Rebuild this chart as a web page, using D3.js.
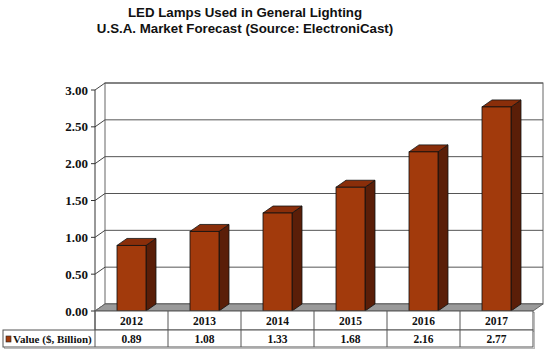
<!DOCTYPE html>
<html><head><meta charset="utf-8">
<script src="https://cdn.jsdelivr.net/npm/d3@7"></script>
<style>body{margin:0;background:#fff}svg{display:block}</style>
</head><body>
<script>
const categories = ["2012","2013","2014","2015","2016","2017"];
const values = [0.89,1.08,1.33,1.68,2.16,2.77];
const valueLabels = ["0.89","1.08","1.33","1.68","2.16","2.77"];
const yTicks = [0,0.5,1,1.5,2,2.5,3];
const seriesName = "Value ($, Billion)";
const titleLines = ["LED Lamps Used in General Lighting","U.S.A. Market Forecast (Source: ElectroniCast)"];

const W=550,H=352;
const svg=d3.select("body").append("svg").attr("width",W).attr("height",H);
const x0=95,x1=533,dx=10,dy=-7;
const y=d3.scaleLinear().domain([0,3]).range([311,90]);
const x=d3.scaleBand().domain(categories).range([x0,x1]);
const barW=29;

// title
svg.selectAll("text.title").data(titleLines).enter().append("text")
 .attr("x",245).attr("y",(d,i)=>17+i*15.5).attr("text-anchor","middle")
 .style("font-family","Liberation Sans, Arial, sans-serif").style("font-weight","bold").style("font-size","13.3px")
 .attr("fill","#111").text(d=>d);

// back wall
svg.append("rect").attr("x",x0+dx).attr("y",y(3)+dy).attr("width",x1-x0).attr("height",y(0)-y(3))
 .attr("fill","#fff").attr("stroke","#666").attr("stroke-width",1);
// gridlines
svg.selectAll("line.grid").data(yTicks).enter().append("line")
 .attr("x1",x0+dx).attr("x2",x1+dx).attr("y1",d=>y(d)+dy).attr("y2",d=>y(d)+dy)
 .attr("stroke","#555").attr("stroke-width",1);
// side wall connectors
svg.selectAll("line.conn").data(yTicks).enter().append("line")
 .attr("x1",x0).attr("y1",d=>y(d)).attr("x2",x0+dx).attr("y2",d=>y(d)+dy)
 .attr("stroke","#444");
// front axis
svg.append("line").attr("x1",x0).attr("x2",x0).attr("y1",y(3)).attr("y2",y(0)).attr("stroke","#333");
svg.selectAll("line.tick").data(yTicks).enter().append("line")
 .attr("x1",x0-4).attr("x2",x0).attr("y1",d=>y(d)).attr("y2",d=>y(d)).attr("stroke","#333");
svg.selectAll("text.yt").data(yTicks).enter().append("text")
 .attr("x",88).attr("y",d=>y(d)+4.5).attr("text-anchor","end")
 .style("font-family","Liberation Serif, Times New Roman, serif").style("font-weight","bold").style("font-size","13px")
 .attr("fill","#111").text(d=>d3.format(".2f")(d));

// floor
const fy=y(0);
svg.append("path").attr("d",`M${x0},${fy}L${x1},${fy}L${x1+dx},${fy+dy}L${x0+dx},${fy+dy}Z`)
 .attr("fill","#9a9a9a").attr("stroke","#666");

// bars
const g=svg.selectAll("g.bar").data(categories).enter().append("g");
g.each(function(c,i){
  const s=d3.select(this);
  const bx=x(c)+x.bandwidth()/2-barW/2, by=y(values[i]), b0=y(0);
  s.append("path").attr("d",`M${bx+barW},${by}L${bx+barW+dx},${by+dy}L${bx+barW+dx},${b0+dy}L${bx+barW},${b0}Z`)
   .attr("fill","#5a1e08").attr("stroke","#111").attr("stroke-width",0.8);
  s.append("path").attr("d",`M${bx},${by}L${bx+dx},${by+dy}L${bx+barW+dx},${by+dy}L${bx+barW},${by}Z`)
   .attr("fill","#8a2e0a").attr("stroke","#111").attr("stroke-width",0.8);
  s.append("rect").attr("x",bx).attr("y",by).attr("width",barW).attr("height",b0-by)
   .attr("fill","#a23a0c").attr("stroke","#111").attr("stroke-width",0.8);
});

// table
const r1=311,r2=330,r3=347;
const tbl=svg.append("g");
tbl.append("rect").attr("x",x0+1.5).attr("y",r1+1.5).attr("width",x1-x0).attr("height",r2-r1).attr("fill","none").attr("stroke","#bbb");
tbl.append("rect").attr("x",4.5).attr("y",r2+1.5).attr("width",x1-3).attr("height",r3-r2).attr("fill","none").attr("stroke","#bbb");
tbl.append("rect").attr("x",x0).attr("y",r1).attr("width",x1-x0).attr("height",r2-r1).attr("fill","#fff").attr("stroke","#555");
tbl.append("rect").attr("x",3).attr("y",r2).attr("width",x1-3).attr("height",r3-r2).attr("fill","#fff").attr("stroke","#555");
tbl.selectAll("line.col").data(categories).enter().append("line")
 .attr("x1",d=>x(d)).attr("x2",d=>x(d)).attr("y1",r1).attr("y2",r3).attr("stroke","#555");
const tf="Liberation Serif, Times New Roman, serif";
tbl.selectAll("text.cat").data(categories).enter().append("text")
 .attr("x",d=>x(d)+x.bandwidth()/2).attr("y",r1+14).attr("text-anchor","middle")
 .style("font-family",tf).style("font-weight","bold").style("font-size","11.5px").attr("fill","#111").text(d=>d);
tbl.selectAll("text.val").data(valueLabels).enter().append("text")
 .attr("x",(d,i)=>x(categories[i])+x.bandwidth()/2).attr("y",r2+13).attr("text-anchor","middle")
 .style("font-family",tf).style("font-weight","bold").style("font-size","11.5px").attr("fill","#111").text(d=>d);
tbl.append("rect").attr("x",6).attr("y",336).attr("width",5).attr("height",6).attr("fill","#a23a0c").attr("stroke","#222").attr("stroke-width",0.6);
tbl.append("text").attr("x",13).attr("y",r2+13)
 .style("font-family",tf).style("font-weight","bold").style("font-size","11px").attr("fill","#111").text(seriesName);
</script>
</body></html>
